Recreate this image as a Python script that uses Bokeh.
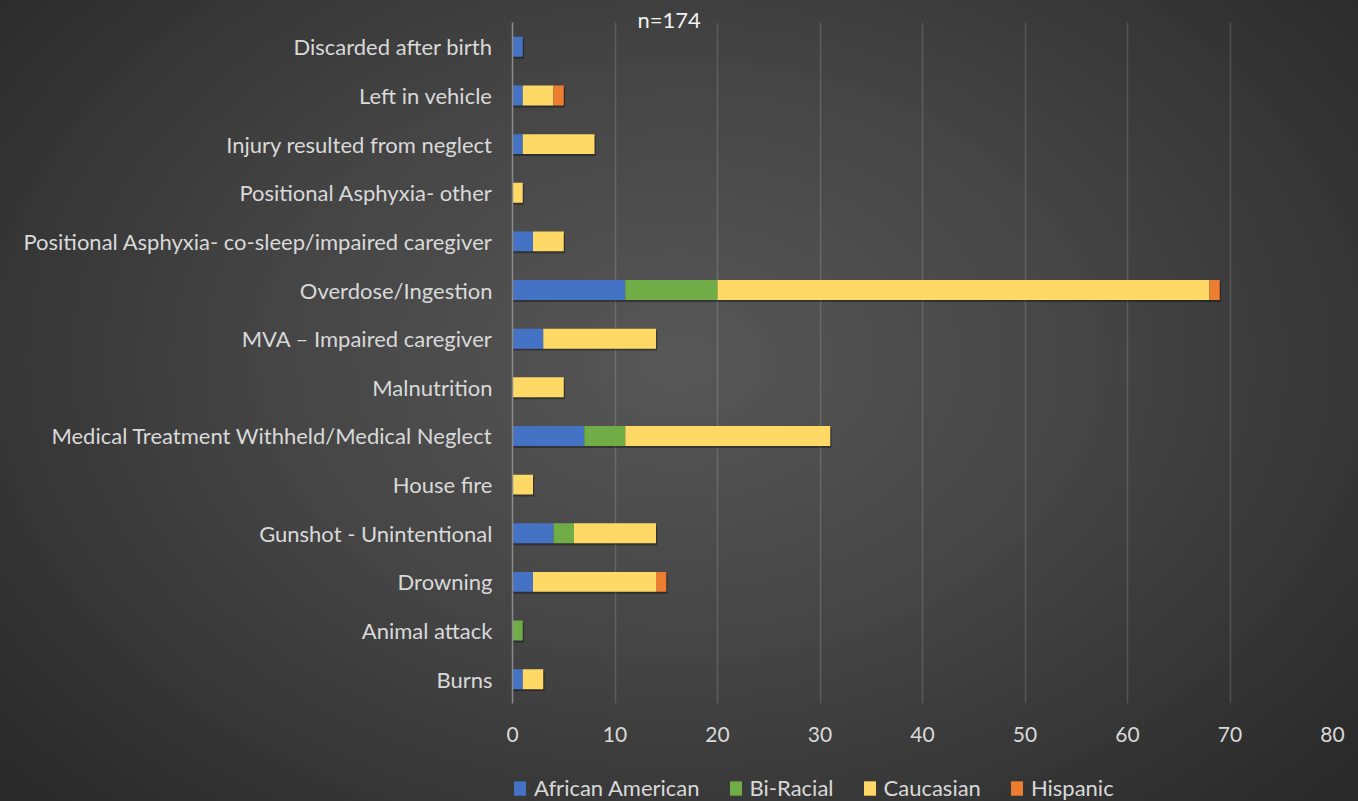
from bokeh.plotting import figure
from bokeh.models import ColumnDataSource, FixedTicker, Legend, LegendItem, Title
from bokeh.layouts import column
from bokeh.embed import file_html
from bokeh.resources import INLINE

categories = [
    "Burns",
    "Animal attack",
    "Drowning",
    "Gunshot - Unintentional",
    "House fire",
    "Medical Treatment Withheld/Medical Neglect",
    "Malnutrition",
    "MVA \u2013 Impaired caregiver",
    "Overdose/Ingestion",
    "Positional Asphyxia- co-sleep/impaired caregiver",
    "Positional Asphyxia- other",
    "Injury resulted from neglect",
    "Left in vehicle",
    "Discarded after birth",
]
african_american = [1, 0, 2, 4, 0, 7, 0, 3, 11, 2, 0, 1, 1, 1]
bi_racial = [0, 1, 0, 2, 0, 4, 0, 0, 9, 0, 0, 0, 0, 0]
caucasian = [2, 0, 12, 8, 2, 20, 5, 11, 48, 3, 1, 7, 3, 0]
hispanic = [0, 0, 1, 0, 0, 0, 0, 0, 1, 0, 0, 0, 1, 0]
series_names = ["African American", "Bi-Racial", "Caucasian", "Hispanic"]
colors = ["#4472C4", "#70AD47", "#FFD966", "#ED7D31"]
x_ticks = [0, 10, 20, 30, 40, 50, 60, 70, 80]
title_text = "n=174"

FONT = "Lato"
TXT = "#d9d9d9"

ypos = list(range(len(categories)))
totals = [a + b + c + d for a, b, c, d in zip(african_american, bi_racial, caucasian, hispanic)]
source = ColumnDataSource(dict(
    y=ypos,
    aa=african_american,
    br=bi_racial,
    ca=caucasian,
    hi=hispanic,
    shadow_y=[v - 0.04 for v in ypos],
    shadow_r=[t + 0.12 if t > 0 else 0 for t in totals],
))

p = figure(
    width=1358, height=750,
    x_range=(0, 80), y_range=(-0.5, len(categories) - 0.5),
    output_backend="svg", toolbar_location=None,
    min_border_left=512, min_border_right=26,
    min_border_top=22, min_border_bottom=47,
)
p.background_fill_color = None
p.border_fill_color = None
p.outline_line_color = None

p.title = Title(text=title_text, align="left", offset=125, standoff=-20,
                text_color="#f2f2f2", text_font=FONT, text_font_size="22px",
                text_font_style="normal")

# shadow under bars
p.hbar(y="shadow_y", left=0, right="shadow_r", height=0.41, source=source,
       fill_color="black", fill_alpha=0.35, line_color=None)

renderers = p.hbar_stack(["aa", "br", "ca", "hi"], y="y", height=0.41,
                         color=colors, line_color=None, source=source)

# axes
p.xaxis.ticker = FixedTicker(ticks=x_ticks)
p.xaxis.axis_line_color = None
p.xaxis.major_tick_line_color = None
p.xaxis.minor_tick_line_color = None
p.xaxis.major_label_text_color = TXT
p.xaxis.major_label_text_font = FONT
p.xaxis.major_label_text_font_size = "21px"
p.xaxis.major_label_standoff = 17

p.yaxis.ticker = FixedTicker(ticks=ypos)
p.yaxis.major_label_overrides = {i: c for i, c in enumerate(categories)}
p.yaxis.axis_line_color = "#8c8c8c"
p.yaxis.axis_line_width = 1.5
p.yaxis.major_tick_line_color = None
p.yaxis.minor_tick_line_color = None
p.yaxis.major_label_text_color = TXT
p.yaxis.major_label_text_font = FONT
p.yaxis.major_label_text_font_size = "22px"
p.yaxis.major_label_standoff = 14

p.xgrid.grid_line_color = "#ffffff"
p.xgrid.grid_line_alpha = 0.14
p.xgrid.grid_line_width = 1.5
p.ygrid.grid_line_color = None

# legend strip (its own small figure below the chart)
pl = figure(width=1358, height=51, x_range=(0, 1), y_range=(0, 1),
            output_backend="svg", toolbar_location=None,
            min_border_left=0, min_border_right=0,
            min_border_top=0, min_border_bottom=0)
pl.axis.visible = False
pl.grid.visible = False
pl.background_fill_color = None
pl.border_fill_color = None
pl.outline_line_color = None
legend_renderers = [pl.hbar(y=[0], left=[0], right=[0], height=0.5, fill_color=c,
                            line_color=None) for c in colors]
legend = Legend(
    items=[LegendItem(label=n, renderers=[r]) for n, r in zip(series_names, legend_renderers)],
    orientation="horizontal", location=(0, 0),
    glyph_width=15, glyph_height=18, label_standoff=7, spacing=28,
    padding=0, margin=0,
    background_fill_alpha=0, border_line_color=None,
    label_text_color=TXT, label_text_font=FONT, label_text_font_size="22px",
)
pl.add_layout(legend)

layout = column(p, pl, spacing=0)
layout.styles = {
    "background": "radial-gradient(ellipse 75% 90% at 50% 45%, #575757 0%, #454545 40%, #2b2b2b 85%, #262626 100%)"
}

open("out.html", "w").write(file_html(layout, INLINE))
